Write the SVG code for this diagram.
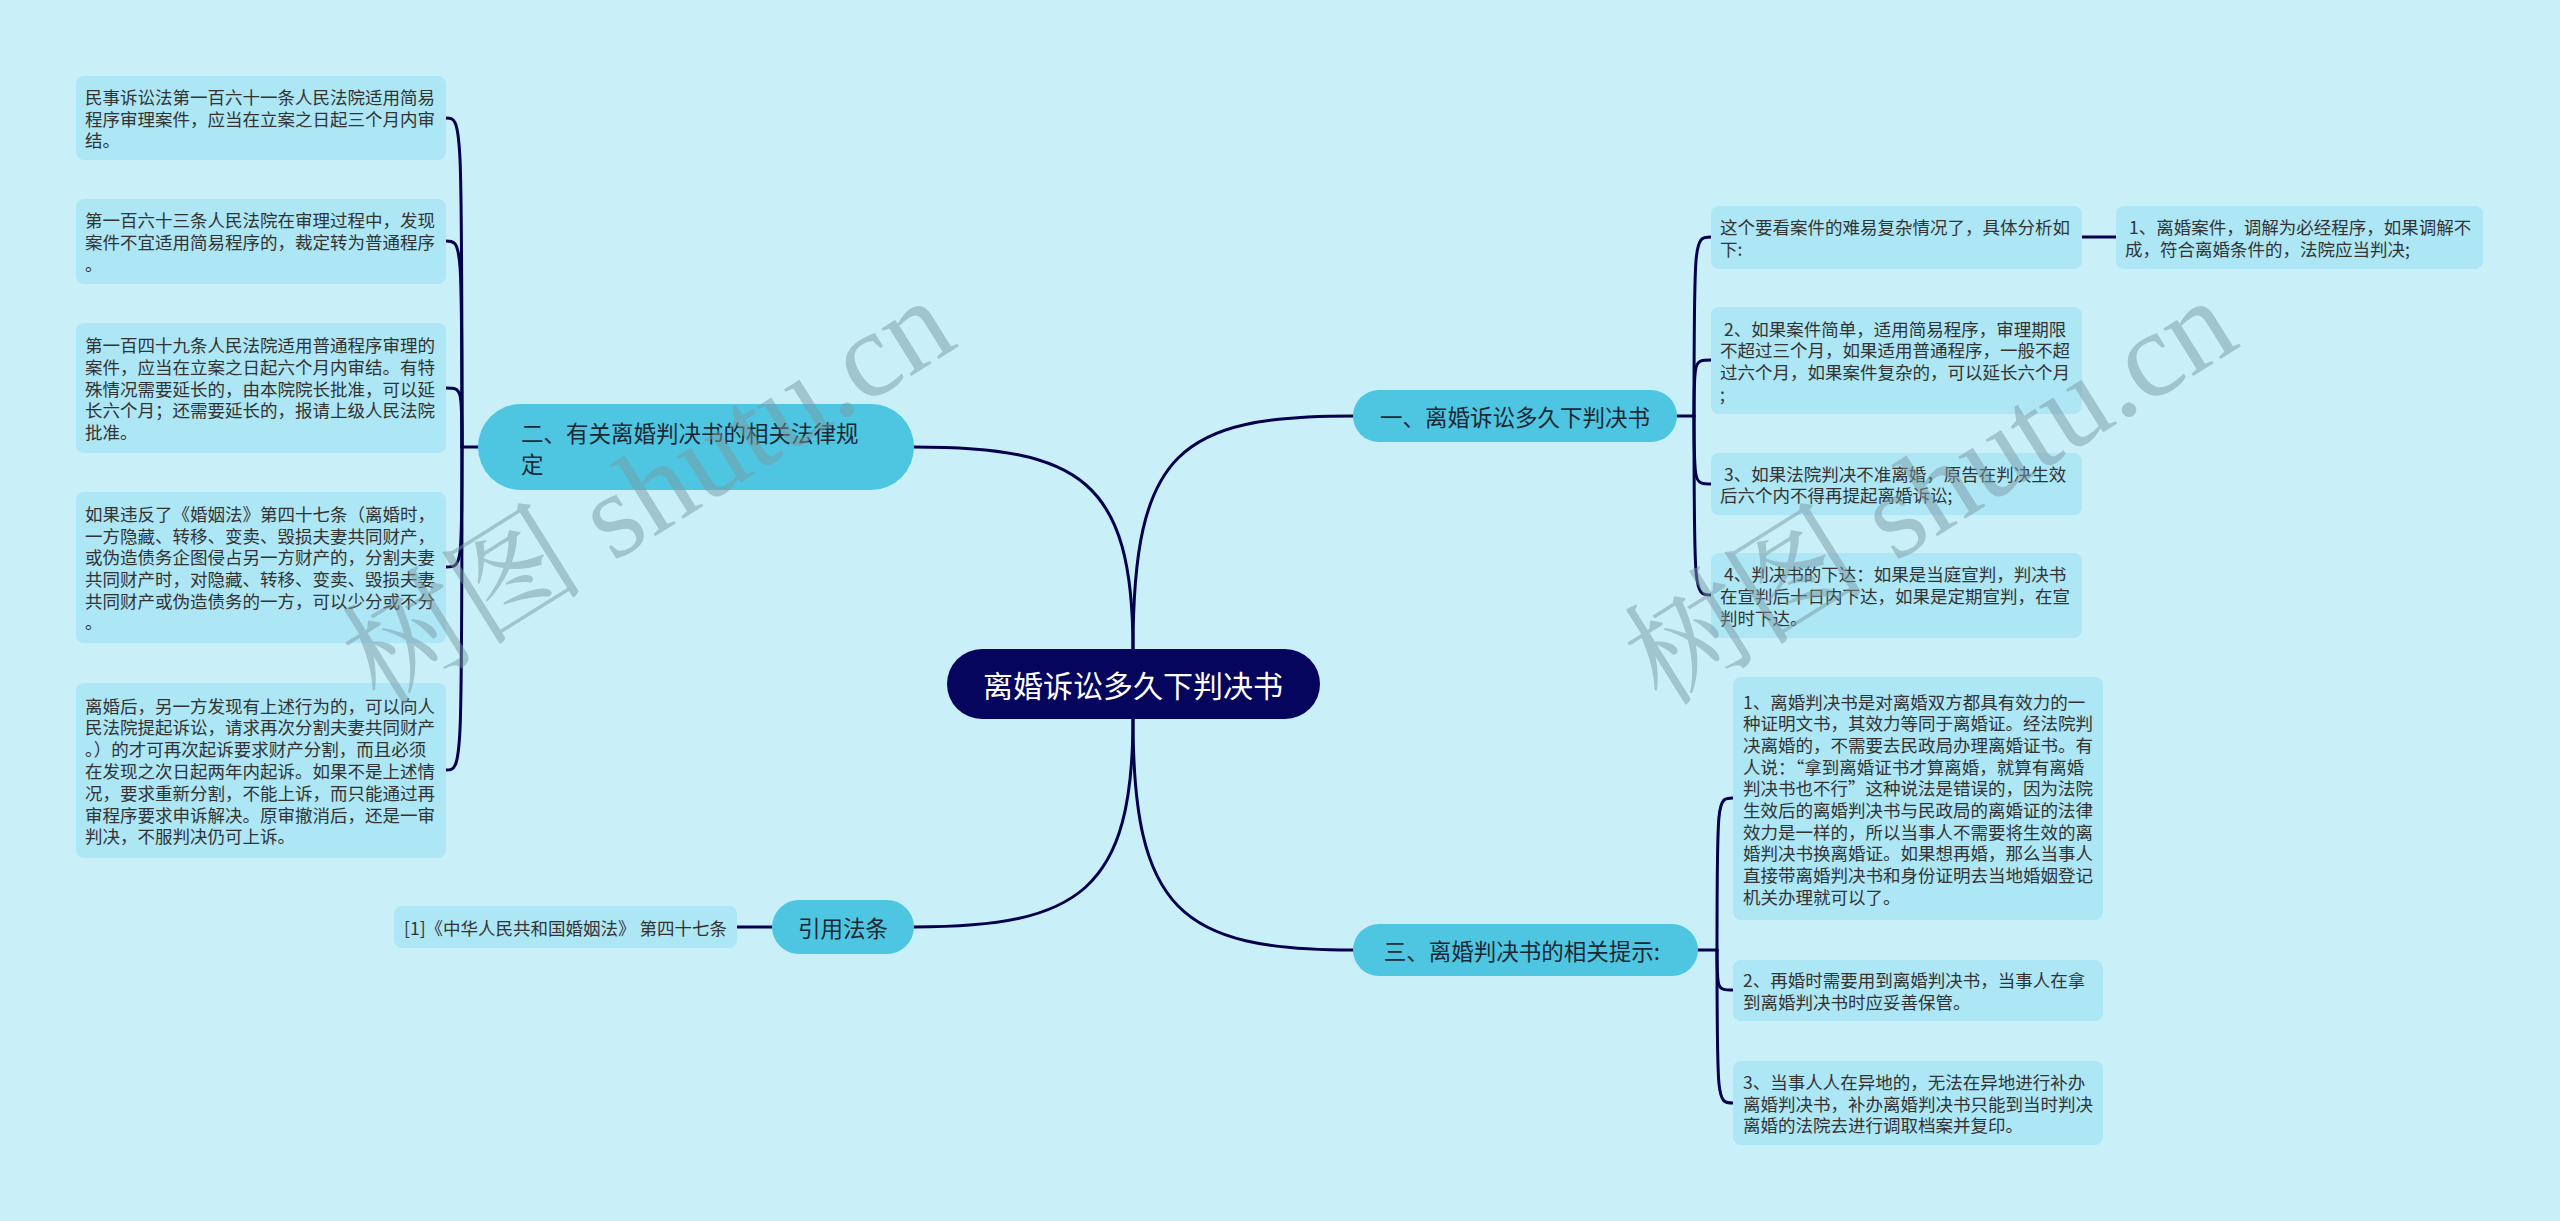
<svg xmlns="http://www.w3.org/2000/svg" width="2560" height="1221" viewBox="0 0 2560 1221">
<style>
.t{font-family:"Noto Sans CJK SC","Noto Sans",sans-serif;font-size:17.5px;fill:#333;dominant-baseline:central}
.bt{font-family:"Noto Sans CJK SC","Noto Sans",sans-serif;font-size:22.5px;fill:#1c2833;dominant-baseline:central}
.rt{font-family:"Noto Sans CJK SC","Noto Sans",sans-serif;font-size:30px;fill:#ffffff;dominant-baseline:central}
.leaf{fill:#ade6f4}
.br{fill:#4ec6e2}
.ln{fill:none;stroke:#00004d;stroke-width:3;stroke-linecap:round}
.wm{font-family:"Liberation Serif","Noto Serif CJK SC","Noto Sans CJK SC",serif;font-size:122px;fill:#7a9aa3;fill-opacity:0.5}
</style>
<rect width="2560" height="1221" fill="#c9f0f8"/>

<g id="connectors">
<path class="ln" d="M1133 650 C1133 450 1180 416 1353 416"/>
<path class="ln" d="M1133 650 C1133 480 1080 447 914 447"/>
<path class="ln" d="M1133 718 C1133 890 1080 927 914 927"/>
<path class="ln" d="M1133 718 C1133 910 1180 950 1353 950"/>
<path class="ln" d="M478 447 L462 447"/>
<path class="ln" d="M462 447 C462 118 462 118 446 118"/>
<path class="ln" d="M462 447 C462 241 462 241 446 241"/>
<path class="ln" d="M462 447 C462 388 462 388 446 388"/>
<path class="ln" d="M462 447 C462 567 462 567 446 567"/>
<path class="ln" d="M462 447 C462 770 462 770 446 770"/>
<path class="ln" d="M772 927 L737 927"/>
<path class="ln" d="M1677 416 L1694 416"/>
<path class="ln" d="M1694 416 C1694 237 1694 237 1711 237"/>
<path class="ln" d="M1694 416 C1694 360 1694 360 1711 360"/>
<path class="ln" d="M1694 416 C1694 484 1694 484 1711 484"/>
<path class="ln" d="M1694 416 C1694 595 1694 595 1711 595"/>
<path class="ln" d="M2082 237 L2116 237"/>
<path class="ln" d="M1698 950 L1717 950"/>
<path class="ln" d="M1717 950 C1717 798 1717 798 1733 798"/>
<path class="ln" d="M1717 950 C1717 990 1717 990 1733 990"/>
<path class="ln" d="M1717 950 C1717 1103 1717 1103 1733 1103"/>
</g>

<g id="root">
<rect x="947" y="649" width="373" height="70" rx="35" fill="#05055e"/>
<text class="rt" x="1133" y="684" text-anchor="middle">离婚诉讼多久下判决书</text>
</g>

<g id="b1">
<rect class="br" x="1353" y="390" width="324" height="52" rx="26"/>
<text class="bt" x="1515" y="416" text-anchor="middle">一、离婚诉讼多久下判决书</text>
</g>
<g id="b2">
<rect class="br" x="478" y="404" width="436" height="86" rx="43"/>
<text class="bt" x="521" y="432">二、有关离婚判决书的相关法律规</text>
<text class="bt" x="521" y="463">定</text>
</g>
<g id="b3">
<rect class="br" x="772" y="900" width="142" height="54" rx="27"/>
<text class="bt" x="843" y="927" text-anchor="middle">引用法条</text>
</g>
<g id="b4">
<rect class="br" x="1353" y="924" width="345" height="52" rx="26"/>
<text class="bt" x="1522" y="950" text-anchor="middle">三、离婚判决书的相关提示:</text>
</g>

<g id="l1">
<rect class="leaf" x="76" y="76" width="370" height="84" rx="8"/>
<text class="t" x="85" y="96.3">民事诉讼法第一百六十一条人民法院适用简易</text>
<text class="t" x="85" y="118">程序审理案件，应当在立案之日起三个月内审</text>
<text class="t" x="85" y="139.7">结。</text>
</g>
<g id="l2">
<rect class="leaf" x="76" y="199" width="370" height="85" rx="8"/>
<text class="t" x="85" y="219.8">第一百六十三条人民法院在审理过程中，发现</text>
<text class="t" x="85" y="241.5">案件不宜适用简易程序的，裁定转为普通程序</text>
<text class="t" x="85" y="263.2">。</text>
</g>
<g id="l3">
<rect class="leaf" x="76" y="323" width="370" height="130" rx="8"/>
<text class="t" x="85" y="344.6">第一百四十九条人民法院适用普通程序审理的</text>
<text class="t" x="85" y="366.3">案件，应当在立案之日起六个月内审结。有特</text>
<text class="t" x="85" y="388">殊情况需要延长的，由本院院长批准，可以延</text>
<text class="t" x="85" y="409.7">长六个月；还需要延长的，报请上级人民法院</text>
<text class="t" x="85" y="431.4">批准。</text>
</g>
<g id="l4">
<rect class="leaf" x="76" y="492" width="370" height="151" rx="8"/>
<text class="t" x="85" y="513.3">如果违反了《婚姻法》第四十七条（离婚时，</text>
<text class="t" x="85" y="535">一方隐藏、转移、变卖、毁损夫妻共同财产，</text>
<text class="t" x="85" y="556.7">或伪造债务企图侵占另一方财产的，分割夫妻</text>
<text class="t" x="85" y="578.4">共同财产时，对隐藏、转移、变卖、毁损夫妻</text>
<text class="t" x="85" y="600.1">共同财产或伪造债务的一方，可以少分或不分</text>
<text class="t" x="85" y="621.8">。</text>
</g>
<g id="l5">
<rect class="leaf" x="76" y="683" width="370" height="175" rx="8"/>
<text class="t" x="85" y="705">离婚后，另一方发现有上述行为的，可以向人</text>
<text class="t" x="85" y="726.8">民法院提起诉讼，请求再次分割夫妻共同财产</text>
<text class="t" x="85" y="748.6">。）的才可再次起诉要求财产分割，而且必须</text>
<text class="t" x="85" y="770.4">在发现之次日起两年内起诉。如果不是上述情</text>
<text class="t" x="85" y="792.2">况，要求重新分割，不能上诉，而只能通过再</text>
<text class="t" x="85" y="814">审程序要求申诉解决。原审撤消后，还是一审</text>
<text class="t" x="85" y="835.8">判决，不服判决仍可上诉。</text>
</g>

<g id="l6">
<rect class="leaf" x="394" y="906" width="343" height="42" rx="8"/>
<text class="t" x="404" y="927">[1]《中华人民共和国婚姻法》 第四十七条</text>
</g>

<g id="r0">
<rect class="leaf" x="1711" y="206" width="371" height="63" rx="8"/>
<text class="t" x="1720" y="226.6">这个要看案件的难易复杂情况了，具体分析如</text>
<text class="t" x="1720" y="248.4">下:</text>
</g>
<g id="r0a">
<rect class="leaf" x="2116" y="206" width="367" height="63" rx="8"/>
<text class="t" x="2125" y="226.6">&#160;1、离婚案件，调解为必经程序，如果调解不</text>
<text class="t" x="2125" y="248.4">成，符合离婚条件的，法院应当判决;</text>
</g>
<g id="r1">
<rect class="leaf" x="1711" y="307" width="371" height="107" rx="8"/>
<text class="t" x="1720" y="328">&#160;2、如果案件简单，适用简易程序，审理期限</text>
<text class="t" x="1720" y="349.8">不超过三个月，如果适用普通程序，一般不超</text>
<text class="t" x="1720" y="371.6">过六个月，如果案件复杂的，可以延长六个月</text>
<text class="t" x="1720" y="393.4">;</text>
</g>
<g id="r2">
<rect class="leaf" x="1711" y="453" width="371" height="62" rx="8"/>
<text class="t" x="1720" y="473.1">&#160;3、如果法院判决不准离婚，原告在判决生效</text>
<text class="t" x="1720" y="494.9">后六个内不得再提起离婚诉讼;</text>
</g>
<g id="r3">
<rect class="leaf" x="1711" y="553" width="371" height="85" rx="8"/>
<text class="t" x="1720" y="573.8">&#160;4、判决书的下达：如果是当庭宣判，判决书</text>
<text class="t" x="1720" y="595.5">在宣判后十日内下达，如果是定期宣判，在宣</text>
<text class="t" x="1720" y="617.2">判时下达。</text>
</g>

<g id="s1">
<rect class="leaf" x="1733" y="677" width="370" height="243" rx="8"/>
<text class="t" x="1743" y="701">1、离婚判决书是对离婚双方都具有效力的一</text>
<text class="t" x="1743" y="722.7">种证明文书，其效力等同于离婚证。经法院判</text>
<text class="t" x="1743" y="744.4">决离婚的，不需要去民政局办理离婚证书。有</text>
<text class="t" x="1743" y="766.1">人说：“拿到离婚证书才算离婚，就算有离婚</text>
<text class="t" x="1743" y="787.8">判决书也不行”这种说法是错误的，因为法院</text>
<text class="t" x="1743" y="809.5">生效后的离婚判决书与民政局的离婚证的法律</text>
<text class="t" x="1743" y="831.2">效力是一样的，所以当事人不需要将生效的离</text>
<text class="t" x="1743" y="852.9">婚判决书换离婚证。如果想再婚，那么当事人</text>
<text class="t" x="1743" y="874.6">直接带离婚判决书和身份证明去当地婚姻登记</text>
<text class="t" x="1743" y="896.3">机关办理就可以了。</text>
</g>
<g id="s2">
<rect class="leaf" x="1733" y="960" width="370" height="61" rx="8"/>
<text class="t" x="1743" y="979.6">2、再婚时需要用到离婚判决书，当事人在拿</text>
<text class="t" x="1743" y="1001.4">到离婚判决书时应妥善保管。</text>
</g>
<g id="s3">
<rect class="leaf" x="1733" y="1061" width="370" height="84" rx="8"/>
<text class="t" x="1743" y="1081.3">3、当事人人在异地的，无法在异地进行补办</text>
<text class="t" x="1743" y="1103">离婚判决书，补办离婚判决书只能到当时判决</text>
<text class="t" x="1743" y="1124.7">离婚的法院去进行调取档案并复印。</text>
</g>

<g id="watermarks">
<text class="wm" x="380" y="708" transform="rotate(-32 380 708)">树图 shutu.cn</text>
<text class="wm" x="1662" y="708" transform="rotate(-32 1662 708)">树图 shutu.cn</text>
</g>
</svg>
